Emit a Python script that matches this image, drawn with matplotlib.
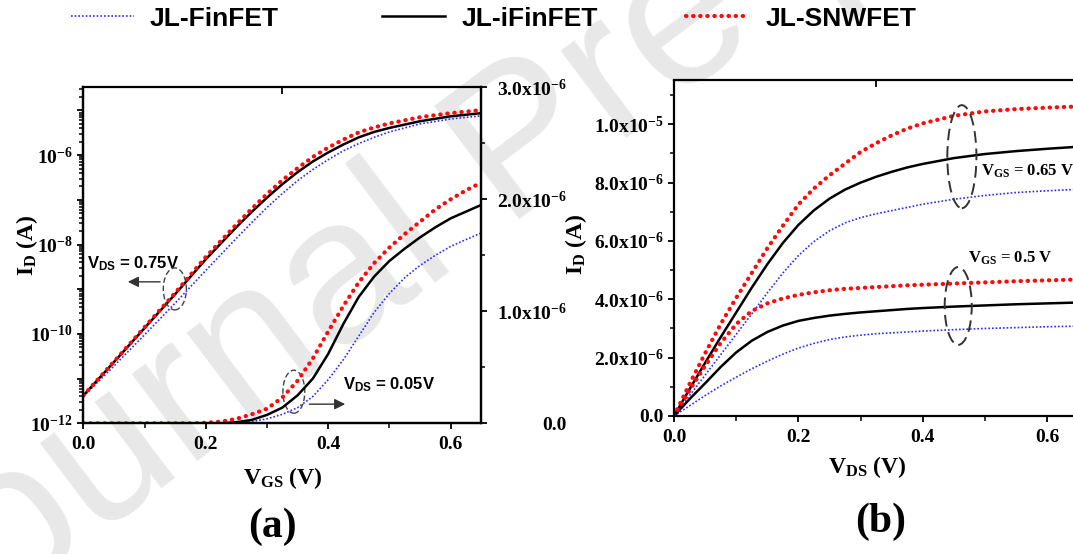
import matplotlib
matplotlib.use('Agg')
import matplotlib.pyplot as plt
from matplotlib.patches import Ellipse
from matplotlib.ticker import FixedLocator, FixedFormatter, LogLocator, NullFormatter, MultipleLocator, NullLocator

# ---------------- data ----------------
# (a) transfer characteristics, VDS = 0.75 V (left, log axis)
vgs_log = [0.0, 0.05, 0.1, 0.15, 0.2, 0.25, 0.275, 0.3, 0.325, 0.35, 0.375, 0.4,
           0.425, 0.45, 0.475, 0.5, 0.55, 0.6, 0.65]
fin_log = [3.98e-12, 1.91e-11, 9.55e-11, 4.90e-10, 2.63e-9, 1.38e-8, 3.09e-8, 6.76e-8,
           1.38e-7, 2.69e-7, 4.79e-7, 7.94e-7, 1.26e-6, 1.82e-6, 2.51e-6, 3.31e-6,
           5.01e-6, 6.46e-6, 7.59e-6]
ifin_log = [4.17e-12, 2.34e-11, 1.35e-10, 7.76e-10, 4.68e-9, 2.45e-8, 5.37e-8, 1.12e-7,
            2.24e-7, 4.17e-7, 7.24e-7, 1.15e-6, 1.74e-6, 2.51e-6, 3.31e-6, 4.07e-6,
            5.75e-6, 7.41e-6, 8.71e-6]
snw_log = [4.17e-12, 2.40e-11, 1.41e-10, 8.30e-10, 5.25e-9, 2.82e-8, 6.30e-8, 1.35e-7,
           2.75e-7, 5.13e-7, 9.12e-7, 1.48e-6, 2.24e-6, 3.24e-6, 4.17e-6, 5.13e-6,
           7.08e-6, 8.71e-6, 1.02e-5]

# (a) transfer characteristics, VDS = 0.05 V (right, linear axis), in uA
vgs_lin = [0.0, 0.025, 0.05, 0.075, 0.1, 0.125, 0.15, 0.175, 0.2, 0.225, 0.25, 0.275,
           0.3, 0.325, 0.35, 0.375, 0.4, 0.425, 0.45, 0.475, 0.5, 0.525, 0.55, 0.575,
           0.6, 0.625, 0.65]
fin_lin_uA = [0, 0, 0, 0, 0, 0, 0, 0, 0, 0, 0.005, 0.015, 0.04, 0.08, 0.14, 0.24, 0.39,
              0.57, 0.78, 0.99, 1.16, 1.30, 1.41, 1.50, 1.58, 1.64, 1.70]
ifin_lin_uA = [0, 0, 0, 0, 0, 0, 0, 0, 0, 0, 0.01, 0.03, 0.075, 0.14, 0.25, 0.40, 0.62,
               0.89, 1.13, 1.31, 1.45, 1.56, 1.66, 1.75, 1.83, 1.89, 1.95]
snw_lin_uA = [0, 0, 0, 0, 0, 0, 0, 0, 0.005, 0.015, 0.04, 0.08, 0.13, 0.23, 0.38, 0.58,
              0.82, 1.05, 1.26, 1.43, 1.57, 1.69, 1.80, 1.91, 2.00, 2.08, 2.15]

# (b) output characteristics, in uA
vds = [0.0, 0.025, 0.05, 0.075, 0.1, 0.125, 0.15, 0.175, 0.2, 0.225, 0.25, 0.275, 0.3,
       0.325, 0.35, 0.375, 0.4, 0.45, 0.5, 0.55, 0.6, 0.65]
snw_065 = [0, 1.10, 2.15, 3.15, 4.05, 4.90, 5.75, 6.52, 7.25, 7.80, 8.25, 8.65, 9.05,
           9.35, 9.62, 9.85, 10.03, 10.29, 10.44, 10.52, 10.57, 10.61]
ifin_065 = [0, 0.92, 1.82, 2.70, 3.55, 4.40, 5.20, 5.93, 6.55, 7.05, 7.45, 7.76, 8.00,
            8.20, 8.37, 8.52, 8.64, 8.84, 8.98, 9.08, 9.16, 9.23]
fin_065 = [0, 0.70, 1.40, 2.10, 2.80, 3.50, 4.22, 4.90, 5.50, 5.98, 6.35, 6.62, 6.80,
           6.93, 7.04, 7.15, 7.26, 7.43, 7.56, 7.66, 7.72, 7.77]
snw_050 = [0, 0.88, 1.72, 2.50, 3.15, 3.60, 3.86, 4.03, 4.15, 4.24, 4.31, 4.36, 4.39,
           4.42, 4.45, 4.48, 4.50, 4.54, 4.58, 4.62, 4.65, 4.68]
ifin_050 = [0, 0.58, 1.12, 1.68, 2.18, 2.58, 2.88, 3.10, 3.26, 3.36, 3.44, 3.50, 3.55,
            3.59, 3.63, 3.67, 3.70, 3.75, 3.79, 3.83, 3.86, 3.89]
fin_050 = [0, 0.35, 0.70, 1.03, 1.33, 1.62, 1.88, 2.12, 2.33, 2.49, 2.62, 2.71, 2.77,
           2.82, 2.85, 2.88, 2.91, 2.96, 3.00, 3.03, 3.06, 3.08]

series_names = ['JL-FinFET', 'JL-iFinFET', 'JL-SNWFET']

x_ticks = [0.0, 0.2, 0.4, 0.6]
x_tick_labels = ['0.0', '0.2', '0.4', '0.6']
log_ticks = [1e-12, 1e-11, 1e-10, 1e-9, 1e-8, 1e-7, 1e-6, 1e-5]
log_tick_labels = ['10$^{-12}$', '', '10$^{-10}$', '', '10$^{-8}$', '', '10$^{-6}$', '']
lin_a_ticks = [0.0, 1e-6, 2e-6, 3e-6]
lin_a_labels = ['0.0', '1.0x10$^{-6}$', '2.0x10$^{-6}$', '3.0x10$^{-6}$']
lin_b_ticks = [0.0, 2e-6, 4e-6, 6e-6, 8e-6, 1e-5]
lin_b_labels = ['0.0', '2.0x10$^{-6}$', '4.0x10$^{-6}$', '6.0x10$^{-6}$',
                '8.0x10$^{-6}$', '1.0x10$^{-5}$']

# ---------------- style ----------------
plt.rcParams.update({
    'font.family': 'Liberation Serif',
    'font.weight': 'bold',
    'axes.labelweight': 'bold',
    'mathtext.fontset': 'custom',
    'mathtext.rm': 'Liberation Serif:bold',
    'mathtext.bf': 'Liberation Serif:bold',
    'mathtext.it': 'Liberation Serif:bold:italic',
    'mathtext.sf': 'Liberation Sans:bold',
    'mathtext.default': 'bf',
    'axes.linewidth': 1.6,
    'xtick.major.width': 1.3, 'ytick.major.width': 1.3,
    'xtick.minor.width': 1.1, 'ytick.minor.width': 1.1,
    'xtick.major.size': 4.5, 'ytick.major.size': 4.5,
    'xtick.minor.size': 3.5, 'ytick.minor.size': 2.8,
    'xtick.labelsize': 14, 'ytick.labelsize': 14,
})

blue_kw = dict(color='#2a2aff', lw=1.2, ls=(0, (1, 1.2)))
black_kw = dict(color='black', lw=1.8, ls='-')
red_kw = dict(color='#ff0a0a', lw=3.0, ls=(0, (0.1, 1.6)), dash_capstyle='round')

W, H = 1073, 554
fig = plt.figure(figsize=(W / 100, H / 100), dpi=100)

# watermark (behind everything)
fig.text(-78 / W, 1 - 669 / H, 'Journal Pre-proof', rotation=37, rotation_mode='anchor',
         ha='left', va='baseline', fontsize=148, color='#e8e8e8',
         family='Liberation Sans', weight='normal', zorder=-5)

uA = 1e-6

# ---------------- panel (a) ----------------
axA = fig.add_axes([83.3 / W, 1 - 423.3 / H, 398 / W, 336 / H])
axA.set_facecolor('none')
axA.set_yscale('log')
hb, = axA.plot(vgs_log, fin_log, **blue_kw)
hk, = axA.plot(vgs_log, ifin_log, **black_kw)
hr, = axA.plot(vgs_log, snw_log, **red_kw)
axA.set_xlim(0, 0.65)
axA.set_ylim(1e-12, 3.3e-5)
axA.xaxis.set_major_locator(FixedLocator(x_ticks))
axA.xaxis.set_major_formatter(FixedFormatter(x_tick_labels))
axA.xaxis.set_minor_locator(MultipleLocator(0.1))
axA.yaxis.set_major_locator(FixedLocator(log_ticks))
axA.yaxis.set_major_formatter(FixedFormatter(log_tick_labels))
axA.yaxis.set_minor_locator(LogLocator(base=10, subs=[2, 3, 4, 5, 6, 7, 8, 9], numticks=30))
axA.yaxis.set_minor_formatter(NullFormatter())
axA.tick_params(which='both', direction='out', top=False, right=False)
axA.tick_params(axis='x', pad=5)
axA.tick_params(axis='y', pad=3)
axA.spines['top'].set_visible(False)

axA2 = axA.twinx()
axA2.set_facecolor('none')
axA2.spines['top'].set_visible(False)
axA2.plot(vgs_lin, [v * uA for v in fin_lin_uA], **blue_kw)
axA2.plot(vgs_lin, [v * uA for v in ifin_lin_uA], **black_kw)
axA2.plot(vgs_lin, [v * uA for v in snw_lin_uA], **red_kw)
axA2.set_ylim(0, 3e-6)
axA2.yaxis.set_major_locator(FixedLocator(lin_a_ticks))
axA2.set_yticklabels(lin_a_labels, ha='right')
axA2.yaxis.set_minor_locator(MultipleLocator(0.5e-6))
axA2.tick_params(axis='y', which='both', direction='out', pad=57)

secA = axA.secondary_xaxis('top')
secA.set_xticks([0.325])
secA.set_xticklabels([''])
secA.xaxis.set_minor_locator(NullLocator())
secA.tick_params(direction='in', length=5, width=1.3)

axA.set_xlabel('V$_{\\mathbf{GS}}$ (V)', fontsize=17, va='center')
axA.xaxis.set_label_coords(0.5, -0.163)
axA.set_ylabel('I$_{\\mathbf{D}}$ (A)', fontsize=17, va='center')
axA.yaxis.set_label_coords(-0.1415, 0.53)

# annotations (a)
axA.add_patch(Ellipse((0.230, 0.400), 0.058, 0.125, transform=axA.transAxes,
                      fill=False, ec='#444444', lw=1.0, ls=(0, (4, 2)), zorder=5))
axA.add_patch(Ellipse((0.529, 0.094), 0.055, 0.128, transform=axA.transAxes,
                      fill=False, ec='#444444', lw=1.0, ls=(0, (4, 2)), zorder=5))
axA.annotate('', xy=(0.105, 0.421), xytext=(0.200, 0.421), xycoords='axes fraction',
             arrowprops=dict(arrowstyle='-|>', color='#333333', lw=1.0, mutation_scale=16))
axA.annotate('', xy=(0.665, 0.057), xytext=(0.561, 0.057), xycoords='axes fraction',
             arrowprops=dict(arrowstyle='-|>', color='#333333', lw=1.0, mutation_scale=16))
axA.text(0.009, 0.461, 'V$_{\\mathsf{DS}}$ = 0.75V', transform=axA.transAxes,
         family='Liberation Sans', weight='bold', fontsize=12, ha='left', va='baseline')
axA.text(0.653, 0.099, 'V$_{\\mathsf{DS}}$ = 0.05V', transform=axA.transAxes,
         family='Liberation Sans', weight='bold', fontsize=12, ha='left', va='baseline')

# ---------------- panel (b) ----------------
axC = fig.add_axes([674 / W, 1 - 416 / H, 404.3 / W, 335.5 / H])
axC.set_facecolor('none')
axC.plot(vds, [v * uA for v in fin_065], **blue_kw)
axC.plot(vds, [v * uA for v in ifin_065], **black_kw)
axC.plot(vds, [v * uA for v in snw_065], **red_kw)
axC.plot(vds, [v * uA for v in fin_050], **blue_kw)
axC.plot(vds, [v * uA for v in ifin_050], **black_kw)
axC.plot(vds, [v * uA for v in snw_050], **red_kw)
axC.set_xlim(0, 0.65)
axC.set_ylim(0, 11.5e-6)
axC.xaxis.set_major_locator(FixedLocator(x_ticks))
axC.xaxis.set_major_formatter(FixedFormatter(x_tick_labels))
axC.xaxis.set_minor_locator(MultipleLocator(0.1))
axC.yaxis.set_major_locator(FixedLocator(lin_b_ticks))
axC.yaxis.set_major_formatter(FixedFormatter(lin_b_labels))
axC.yaxis.set_minor_locator(MultipleLocator(1e-6))
axC.tick_params(which='both', direction='out', top=False, right=False)
axC.tick_params(axis='x', pad=5)
axC.tick_params(axis='y', pad=3)
axC.spines['top'].set_visible(False)

secC = axC.secondary_xaxis('top')
secC.set_xticks([0.325])
secC.set_xticklabels([''])
secC.xaxis.set_minor_locator(NullLocator())
secC.tick_params(direction='in', length=5, width=1.3)

axC.set_xlabel('V$_{\\mathbf{DS}}$ (V)', fontsize=17, va='center')
axC.xaxis.set_label_coords(0.479, -0.152)
axC.set_ylabel('I$_{\\mathbf{D}}$ (A)', fontsize=17, va='center')
axC.yaxis.set_label_coords(-0.243, 0.513)

axC.add_patch(Ellipse((0.712, 0.773), 0.072, 0.307, transform=axC.transAxes,
                      fill=False, ec='#333333', lw=1.4, ls=(0, (6, 3)), zorder=5))
axC.add_patch(Ellipse((0.703, 0.328), 0.067, 0.232, transform=axC.transAxes,
                      fill=False, ec='#333333', lw=1.4, ls=(0, (6, 3)), zorder=5))
axC.text(0.759, 0.718, 'V$_{\\mathbf{GS}}$ = 0.65 V', transform=axC.transAxes,
         fontsize=12, ha='left', va='baseline')
axC.text(0.727, 0.456, 'V$_{\\mathbf{GS}}$ = 0.5 V', transform=axC.transAxes,
         fontsize=12, ha='left', va='baseline')

# ---------------- legend ----------------
leg_prop = {'family': 'Liberation Sans', 'weight': 'bold', 'size': 19}
for h, name, xpx in zip([hb, hk, hr], series_names, [70.7, 382, 686]):
    fig.legend(handles=[h], labels=[name], loc='center left',
               bbox_to_anchor=(xpx / W, 1 - 18.7 / H), bbox_transform=fig.transFigure,
               frameon=False, prop=leg_prop, handlelength=2.4, handletextpad=0.6,
               borderpad=0, borderaxespad=0)

# panel labels
fig.text(272 / W, 1 - 527 / H, '(a)', fontsize=30, ha='center', va='center')
fig.text(881 / W, 1 - 522 / H, '(b)', fontsize=30, ha='center', va='center')

fig.savefig('out.png', dpi=100)
